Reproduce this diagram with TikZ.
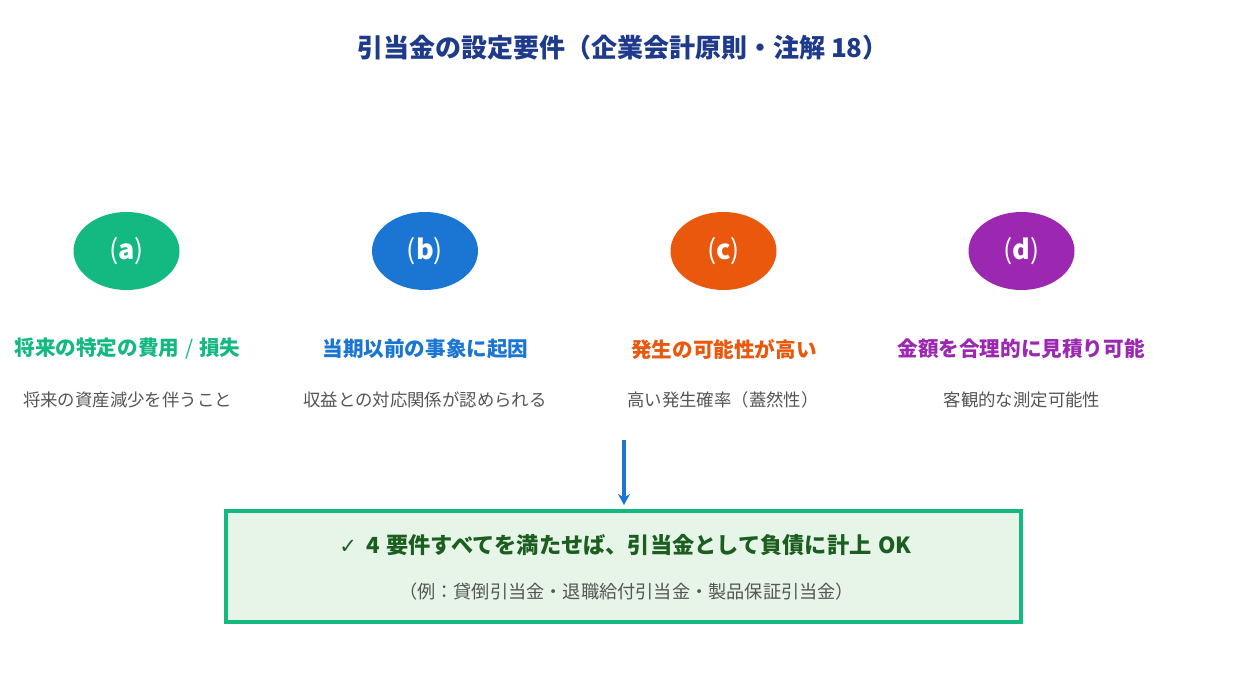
\documentclass[tikz,border=0pt]{standalone}
\usepackage{fontspec}
\setmainfont{Noto Sans CJK JP}
\newfontfamily\symfont{DejaVu Sans}
\usetikzlibrary{shapes.geometric,arrows.meta}
\definecolor{cA}{HTML}{14B982}
\definecolor{cB}{HTML}{1A76D2}
\definecolor{cC}{HTML}{E9580C}
\definecolor{cD}{HTML}{9C27B0}
\definecolor{titleblue}{HTML}{1E3A8A}
\definecolor{subgray}{HTML}{555555}
\definecolor{okgreen}{HTML}{1B5E20}
\definecolor{boxfill}{HTML}{E7F5E9}
\newcommand{\thinp}[1]{{\mdseries(}#1{\mdseries)}}
\tikzset{
  badge/.style={ellipse, minimum width=106pt, minimum height=78pt, inner sep=0pt, text=white, font=\fontsize{27}{30}\selectfont\bfseries},
  headlabel/.style={font=\fontsize{20.6}{24}\selectfont\bfseries, inner sep=0pt},
  sublabel/.style={font=\fontsize{17.4}{20}\selectfont, text=subgray, inner sep=0pt},
}
\begin{document}
\begin{tikzpicture}[x=1pt,y=-1pt]
\useasboundingbox[fill=white] (0,0) rectangle (1234,696);
\node[font=\fontsize{26}{30}\selectfont\bfseries, text=titleblue, inner sep=0pt] (title) at (623,48) {引当金の設定要件（企業会計原則・注解 18）};

\node[badge, fill=cA] (ea) at (126.5,251) {\thinp{a}};
\node[badge, fill=cB] (eb) at (425,251) {\thinp{b}};
\node[badge, fill=cC] (ec) at (723.5,251) {\thinp{c}};
\node[badge, fill=cD] (ed) at (1021.5,251) {\thinp{d}};

\node[headlabel, text=cA] (la) at (127.5,349) {将来の特定の費用\hspace{6pt}{\mdseries /}\hspace{6pt}損失};
\node[headlabel, text=cB] (lb) at (425.5,349) {当期以前の事象に起因};
\node[headlabel, text=cC] (lc) at (724,349) {発生の可能性が高い};
\node[headlabel, text=cD] (ld) at (1021,349) {金額を合理的に見積り可能};

\node[sublabel] (sa) at (127.5,400) {将来の資産減少を伴うこと};
\node[sublabel] (sb) at (425,400) {収益との対応関係が認められる};
\node[sublabel] (sc) at (723,400) {高い発生確率（蓋然性）};
\node[sublabel] (sd) at (1022,400) {客観的な測定可能性};

\node[draw=cA, line width=4pt, fill=boxfill, minimum width=795pt, minimum height=111pt, inner sep=0pt] (box) at (623.5,566.5) {};
\node[font=\fontsize{22.2}{26}\selectfont\bfseries, text=okgreen, inner sep=0pt] (ok) at (625.5,545) {{\symfont\mdseries\fontsize{21}{22}\selectfont ✓}\hspace{9pt}4\hspace{7pt}要件すべてを満たせば、引当金として負債に計上\hspace{7pt}OK};
\node[sublabel, font=\fontsize{18.2}{20}\selectfont] (ex) at (626.5,592) {（例：貸倒引当金・退職給付引当金・製品保証引当金）};

\coordinate (arrstart) at (624,440);
\draw[cB, line width=3.6pt, -{Stealth[length=11pt,width=12pt]}, shorten >=4pt] (arrstart) -- (box.north -| arrstart);
\end{tikzpicture}
\end{document}
